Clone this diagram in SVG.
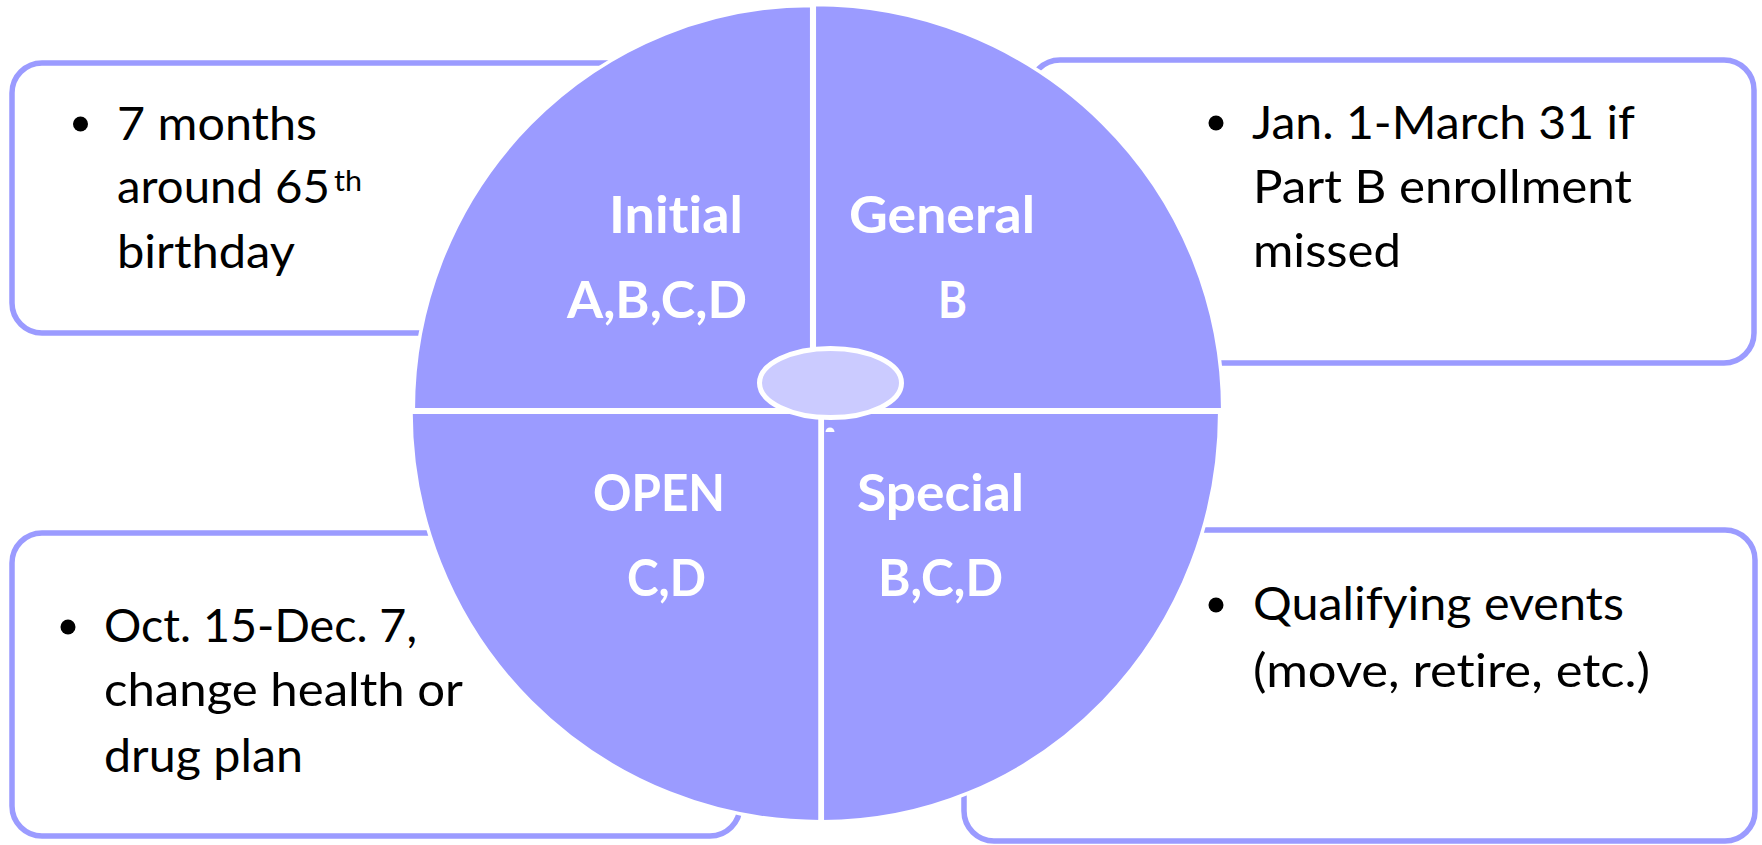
<svg xmlns="http://www.w3.org/2000/svg" width="1762" height="845" viewBox="0 0 1762 845">
  <style>
    .box { fill: #ffffff; stroke: #9b9bff; stroke-width: 5.5; }
    .quad { fill: #9b9bff; stroke: #ffffff; stroke-width: 3.5; }
    text { font-variant-ligatures: none; font-feature-settings: "liga" 0, "dlig" 0; }
    .btxt { font-family: Lato, "Liberation Sans", sans-serif; font-size: 47px; fill: #000000; }
    .sup { font-family: Lato, "Liberation Sans", sans-serif; font-size: 29px; fill: #000000; }
    .lbl { font-family: Lato, "Liberation Sans", sans-serif; font-size: 52px; font-weight: bold; fill: #ffffff; }
    .bullet { fill: #000000; }
  </style>
  <rect width="1762" height="845" fill="#ffffff"/>

  <g id="box-initial">
    <rect class="box" x="12" y="63" width="690" height="270" rx="30" ry="30"/>
    <circle class="bullet" cx="80.5" cy="124" r="7.5"/>
    <text class="btxt" x="117" y="140" textLength="200" lengthAdjust="spacingAndGlyphs">7 months</text>
    <text class="btxt" x="117" y="203" textLength="213" lengthAdjust="spacingAndGlyphs">around 65</text>
    <text class="sup" x="334" y="191" textLength="28" lengthAdjust="spacingAndGlyphs">th</text>
    <text class="btxt" x="117" y="268" textLength="178" lengthAdjust="spacingAndGlyphs">birthday</text>
  </g>

  <g id="box-general">
    <rect class="box" x="1030" y="60" width="724" height="303" rx="30" ry="30"/>
    <circle class="bullet" cx="1216" cy="123" r="7.5"/>
    <text class="btxt" x="1252" y="139" textLength="383" lengthAdjust="spacingAndGlyphs">Jan. 1-March 31 if</text>
    <text class="btxt" x="1253" y="203" textLength="379" lengthAdjust="spacingAndGlyphs">Part B enrollment</text>
    <text class="btxt" x="1253" y="267" textLength="148" lengthAdjust="spacingAndGlyphs">missed</text>
  </g>

  <g id="box-open">
    <rect class="box" x="12" y="533" width="728" height="303" rx="30" ry="30"/>
    <circle class="bullet" cx="68" cy="627" r="7.5"/>
    <text class="btxt" x="104" y="642" textLength="313" lengthAdjust="spacingAndGlyphs">Oct. 15-Dec. 7,</text>
    <text class="btxt" x="104" y="706" textLength="359" lengthAdjust="spacingAndGlyphs">change health or</text>
    <text class="btxt" x="104" y="772" textLength="199" lengthAdjust="spacingAndGlyphs">drug plan</text>
  </g>

  <g id="box-special">
    <rect class="box" x="964" y="530" width="791" height="311" rx="30" ry="30"/>
    <circle class="bullet" cx="1216" cy="605" r="7.5"/>
    <text class="btxt" x="1253" y="620" textLength="371" lengthAdjust="spacingAndGlyphs">Qualifying events</text>
    <text class="btxt" x="1253" y="687" textLength="397" lengthAdjust="spacingAndGlyphs">(move, retire, etc.)</text>
  </g>

  <g id="quadrant-initial">
    <path class="quad" d="M 811.7,409.7 L 413.3,409.7 A 398.4 404.2 0 0 1 811.7,5.5 Z"/>
    <text class="lbl" x="609" y="233" textLength="134" lengthAdjust="spacingAndGlyphs">Initial</text>
    <text class="lbl" x="567" y="318" textLength="180" lengthAdjust="spacingAndGlyphs">A,B,C,D</text>
  </g>

  <g id="quadrant-general">
    <path class="quad" d="M 814.3,409.7 L 814.3,4.5 A 408.4 405.2 0 0 1 1222.7,409.7 Z"/>
    <text class="lbl" x="849" y="233" textLength="186" lengthAdjust="spacingAndGlyphs">General</text>
    <text class="lbl" x="938" y="318" textLength="29" lengthAdjust="spacingAndGlyphs">B</text>
  </g>

  <g id="quadrant-open">
    <path class="quad" d="M 820,412.3 L 820,821.7 A 409 409.4 0 0 1 411,412.3 Z"/>
    <text class="lbl" x="593" y="511" textLength="132" lengthAdjust="spacingAndGlyphs">OPEN</text>
    <text class="lbl" x="627" y="596" textLength="79" lengthAdjust="spacingAndGlyphs">C,D</text>
  </g>

  <g id="quadrant-special">
    <path class="quad" d="M 822.3,412.3 L 1219.7,412.3 A 397.4 409.4 0 0 1 822.3,821.7 Z"/>
    <text class="lbl" x="857" y="511" textLength="167" lengthAdjust="spacingAndGlyphs">Special</text>
    <text class="lbl" x="878" y="596" textLength="125" lengthAdjust="spacingAndGlyphs">B,C,D</text>
  </g>

  <g id="center">
    <ellipse cx="830.5" cy="383" rx="71" ry="34.5" fill="#cbcbff" stroke="#ffffff" stroke-width="5"/>
    <path d="M 825.5,432 A 4.5 4.5 0 0 1 834.5,432 Z" fill="#ffffff"/>
  </g>
</svg>
